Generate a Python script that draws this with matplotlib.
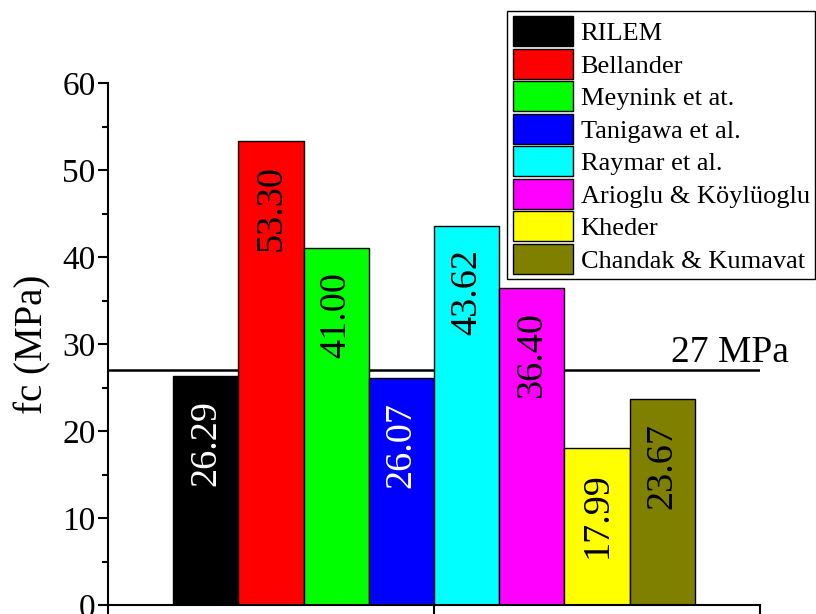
import matplotlib
matplotlib.use("Agg")
import matplotlib.pyplot as plt
from matplotlib.ticker import MultipleLocator

plt.rcParams['font.family'] = ['Liberation Serif', 'DejaVu Serif']

methods = ["RILEM", "Bellander", "Meynink et at.", "Tanigawa et al.",
           "Raymar et al.", "Arioglu & Köylüoglu", "Kheder", "Chandak & Kumavat"]
values = [26.29, 53.30, 41.00, 26.07, 43.62, 36.40, 17.99, 23.67]
colors = ["#000000", "#FF0000", "#00FF00", "#0000FF",
          "#00FFFF", "#FF00FF", "#FFFF00", "#808000"]
text_colors = ["white", "black", "black", "white",
               "black", "black", "black", "black"]
threshold = 27
threshold_label = "27 MPa"
ylabel = "fc (MPa)"
positions = [1.5, 2.5, 3.5, 4.5, 5.5, 6.5, 7.5, 8.5]

fig = plt.figure(figsize=(8.16, 6.14), dpi=100)
ax = fig.add_axes([108/816, 9/614, (760-108)/816, (605-83)/614])

handles = []
for x, v, c, tc, name in zip(positions, values, colors, text_colors, methods):
    b = ax.bar(x, v, width=1.0, color=c, edgecolor="black", linewidth=1.0, label=name)
    handles.append(b)
    ax.annotate(f"{v:.2f}", xy=(x, v), xytext=(0, -17), textcoords="offset points",
                rotation=90, ha="center", va="top", fontsize=27.5, color=tc)

ax.axhline(threshold, color="black", linewidth=1.8, zorder=0.5)
ax.text(10.45, threshold + 0.9, threshold_label, ha="right", va="baseline",
        fontsize=27, clip_on=False)

ax.set_xlim(0, 10)
ax.set_ylim(0, 60)
ax.set_xticks([0, 5, 10])
ax.set_xticklabels([])
ax.yaxis.set_major_locator(MultipleLocator(10))
ax.yaxis.set_minor_locator(MultipleLocator(5))
ax.tick_params(axis="y", which="major", length=7, width=1.5, labelsize=24, direction="out", pad=2)
ax.tick_params(axis="y", which="minor", length=4, width=1.5, direction="out")
ax.tick_params(axis="x", which="major", length=7, width=1.5, direction="out")
for s in ["top", "right"]:
    ax.spines[s].set_visible(False)
for s in ["left", "bottom"]:
    ax.spines[s].set_linewidth(1.5)
ax.set_ylabel(ylabel, fontsize=28, labelpad=8)

leg = fig.legend(handles=handles, labels=methods, loc="upper right",
                 bbox_to_anchor=(815/816, 1 - 11/614), fontsize=19,
                 handlelength=2.3, handleheight=1.38, labelspacing=0.09,
                 handletextpad=0.28, borderpad=0.2, borderaxespad=0,
                 fancybox=False, frameon=True, edgecolor="black", framealpha=1)
leg.get_frame().set_linewidth(1.0)

fig.savefig("out.png", dpi=100)
